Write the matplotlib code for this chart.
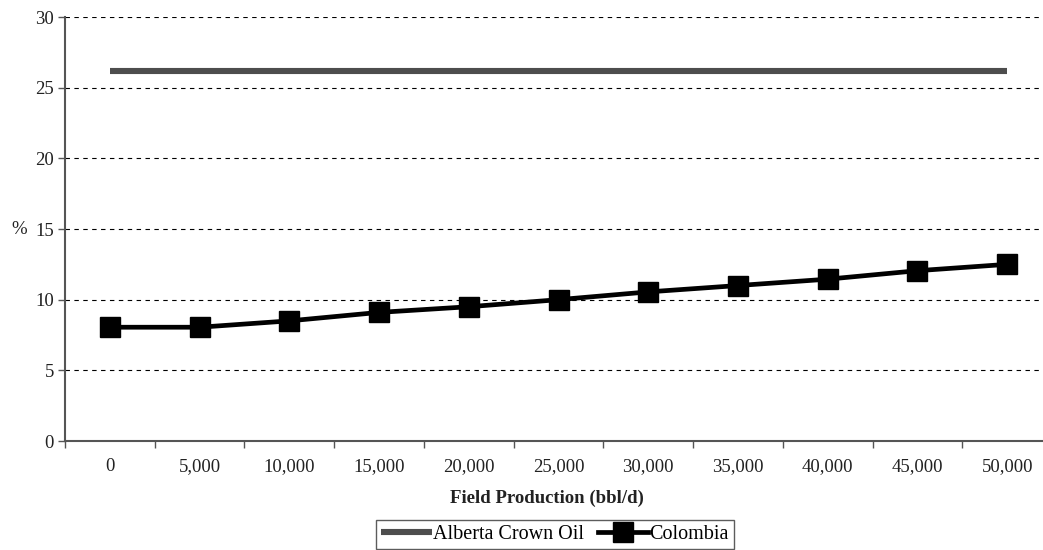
import matplotlib
matplotlib.use("Agg")
import numpy as np
from matplotlib import pyplot as plt

# field production categories and royalty/tax take (%)
production = ["0", "5,000", "10,000", "15,000", "20,000", "25,000",
              "30,000", "35,000", "40,000", "45,000", "50,000"]
alberta = [26.2] * 11
colombia = [8.05, 8.05, 8.5, 9.1, 9.5, 10.0, 10.55, 11.0, 11.45, 12.05, 12.5]

plt.rcParams['font.family'] = ['Liberation Serif', 'DejaVu Serif']

fig = plt.figure(figsize=(10.43, 5.5), dpi=100)
W, H = 1043.0, 550.0
left, right, top, bottom = 65, 1052, 17, 441
ax = fig.add_axes([left / W, 1 - bottom / H, (right - left) / W, (bottom - top) / H])

x = np.arange(len(production))
ax.plot(x, alberta, color="#4d4d4d", lw=4.4, solid_capstyle="butt", label="Alberta Crown Oil", zorder=3)
ax.plot(x, colombia, color="black", lw=3.4, marker="s", markersize=15,
        label="Colombia", zorder=4)

ax.set_xlim(-0.5, len(production) - 0.5)
ax.set_ylim(0, 30)
ax.set_yticks(range(0, 31, 5))
ax.set_xticks(x)
ax.set_xticklabels(production)
ax.set_xticks(np.arange(-0.5, len(production), 1), minor=True)
ax.tick_params(axis="x", which="major", length=0, pad=12, labelsize=13.5, colors="#222222")
ax.tick_params(axis="x", which="minor", length=5, width=1, color="#555555", direction="out")
ax.tick_params(axis="y", length=5, width=1, color="#555555", labelsize=13.5,
               labelcolor="#222222", pad=3)

ax.yaxis.grid(True, linestyle=(0, (4, 4)), color="black", lw=0.8)
ax.set_axisbelow(True)
for s in ("top", "right"):
    ax.spines[s].set_visible(False)
for s in ("left", "bottom"):
    ax.spines[s].set_color("#555555")
    ax.spines[s].set_linewidth(1.5)

fig.text(11 / W, 1 - 229 / H, "%", fontsize=13.5, ha="left", va="center", color="#222222")
fig.text(547 / W, 1 - 498 / H, "Field Production (bbl/d)", fontsize=13.5,
         fontweight="bold", ha="center", va="center", color="#222222")

leg = fig.legend(loc="upper center", bbox_to_anchor=(555 / W, 1 - 520 / H), ncol=2,
                 frameon=True, fancybox=False, edgecolor="#333333", fontsize=14.5,
                 handlelength=2.5, handletextpad=0.05, columnspacing=0.7,
                 borderpad=0.25, borderaxespad=0)
leg.get_frame().set_linewidth(1.0)

fig.savefig("out.png", dpi=100)
